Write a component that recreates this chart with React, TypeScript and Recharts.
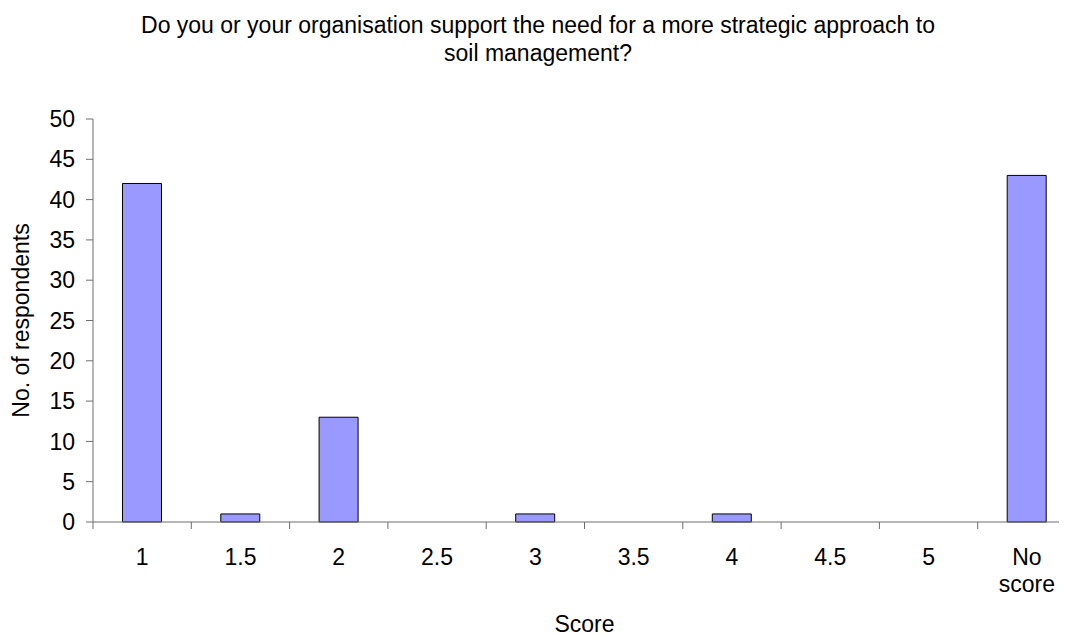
import { Bar, BarChart, XAxis, YAxis } from "recharts";

const scores = ["1", "1.5", "2", "2.5", "3", "3.5", "4", "4.5", "5", "No score"];
const respondents = [42, 1, 13, 0, 1, 0, 1, 0, 0, 43];
const yTicks = [0, 5, 10, 15, 20, 25, 30, 35, 40, 45, 50];

const titleLines = [
  "Do you or your organisation support the need for a more strategic approach to",
  "soil management?",
];

const FONT = "'Liberation Sans', Arial, sans-serif";
const FONT_SIZE = 23;
const AXIS_GREY = "#6e6e6e";

const CHART_W = 1076;
const CHART_H = 636;
const Y_AXIS_W = 93;
const TOP = 119;
const X_AXIS_H = 114;

const chartData = scores.map((score, i) => ({ score, count: respondents[i] }));

function ScoreTick(props: any) {
  const { x, y, payload, width, visibleTicksCount, index } = props;
  const half = payload.offset || width / visibleTicksCount / 2;
  const lines = String(payload.value).split(" ");
  return (
    <g>
      <line x1={x - half} x2={x - half} y1={y} y2={y + 7} stroke={AXIS_GREY} />
      {index === visibleTicksCount - 1 && (
        <line x1={x + half} x2={x + half} y1={y} y2={y + 7} stroke={AXIS_GREY} />
      )}
      <text x={x} y={y + 43} textAnchor="middle" fill="#000" fontSize={FONT_SIZE} fontFamily={FONT}>
        {lines.map((line, i) => (
          <tspan key={line} x={x} dy={i === 0 ? 0 : 27}>
            {line}
          </tspan>
        ))}
      </text>
    </g>
  );
}

export default function App() {
  return (
    <div
      style={{
        position: "relative",
        margin: "-8px 0 0 -8px",
        width: 1067,
        height: 636,
        overflow: "hidden",
        background: "#fff",
        fontFamily: FONT,
      }}
    >
      <div
        style={{
          position: "absolute",
          top: 11,
          left: 0,
          width: CHART_W,
          textAlign: "center",
          fontSize: FONT_SIZE,
          lineHeight: "28px",
          color: "#000",
          zIndex: 1,
        }}
      >
        {titleLines.map((line) => (
          <div key={line}>{line}</div>
        ))}
      </div>
      <BarChart
        width={CHART_W}
        height={CHART_H}
        data={chartData}
        margin={{ top: TOP, right: 0, bottom: 0, left: 0 }}
        barCategoryGap="30%"
      >
        <XAxis
          dataKey="score"
          height={X_AXIS_H}
          interval={0}
          tickSize={0}
          tickMargin={0}
          tickLine={false}
          axisLine={{ stroke: AXIS_GREY }}
          tick={<ScoreTick />}
          label={{
            content: (p: any) => {
              const vb = p.viewBox || { x: Y_AXIS_W, y: CHART_H - X_AXIS_H, width: CHART_W - Y_AXIS_W };
              return (
                <text
                  x={vb.x + vb.width / 2}
                  y={vb.y + 110}
                  textAnchor="middle"
                  fill="#000"
                  fontSize={FONT_SIZE}
                  fontFamily={FONT}
                >
                  Score
                </text>
              );
            },
          }}
        />
        <YAxis
          width={Y_AXIS_W}
          domain={[0, 50]}
          ticks={yTicks}
          interval={0}
          tickSize={7}
          tickMargin={11}
          axisLine={{ stroke: AXIS_GREY }}
          tickLine={{ stroke: AXIS_GREY }}
          tick={{ fill: "#000", fontSize: FONT_SIZE, fontFamily: FONT }}
          label={{
            content: (p: any) => {
              const vb = p.viewBox || { x: 0, y: TOP, height: CHART_H - TOP - X_AXIS_H };
              const cx = vb.x + 29;
              const cy = vb.y + vb.height / 2;
              return (
                <text
                  x={cx}
                  y={cy}
                  transform={`rotate(-90, ${cx}, ${cy})`}
                  textAnchor="middle"
                  fill="#000"
                  fontSize={FONT_SIZE}
                  fontFamily={FONT}
                >
                  No. of respondents
                </text>
              );
            },
          }}
        />
        <Bar dataKey="count" fill="#9999FF" stroke="#000" strokeWidth={1} isAnimationActive={false} />
      </BarChart>
    </div>
  );
}
